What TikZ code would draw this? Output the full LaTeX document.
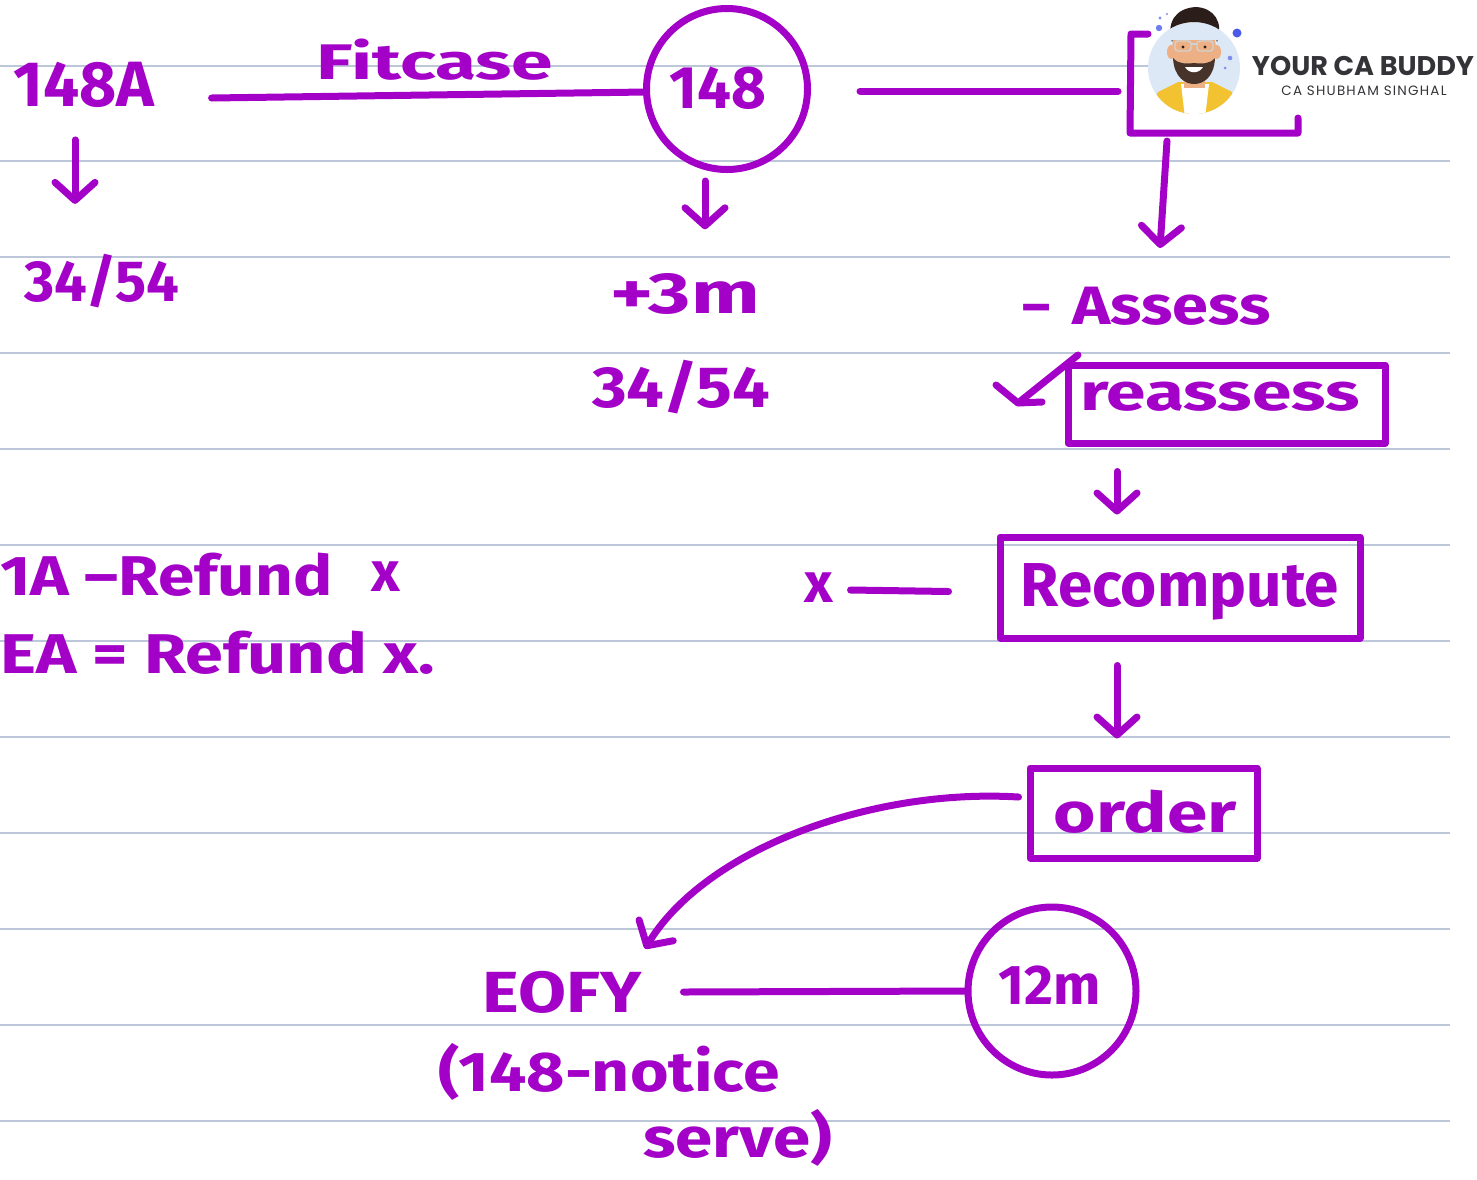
\documentclass[tikz,border=0pt]{standalone}
\usepackage{fontspec}
\setmainfont{Fira Sans}
\newfontfamily\handfont{Fira Sans}
\newfontfamily\logofont{Poppins}
\usetikzlibrary{arrows.meta,calc}
\definecolor{inkc}{RGB}{163,0,200}
\definecolor{rulec}{RGB}{188,200,218}
\definecolor{logogray}{RGB}{52,52,56}
\definecolor{avbg}{RGB}{220,232,245}
\definecolor{skin}{RGB}{236,176,132}
\definecolor{hair}{RGB}{42,29,26}
\definecolor{shirt}{RGB}{242,194,48}
\definecolor{dotblue}{RGB}{74,91,232}
\newcommand\hsz[1]{\fontsize{#1}{#1}\selectfont}
\newcommand\hwide[2]{\scalebox{#1}[1]{#2}}
\begin{document}
\begin{tikzpicture}[x=1pt,y=-1pt,
  ink/.style={draw=inkc, line width=7pt, line cap=round, line join=round},
  flow/.style={ink, -{Straight Barb[length=18pt,width=40pt,line cap=round,line join=round]}},
  hand/.style={text=inkc, inner sep=0pt},
  boxed/.style={ink, rectangle, inner sep=0pt},
  ring/.style={ink, circle, inner sep=0pt},
  ruling/.style={draw=rulec, line width=1.8pt}]
\useasboundingbox (0,0) rectangle (1477,1179);
\fill[white] (0,0) rectangle (1477,1179);

% ruled paper
\draw[ruling] (0,66) -- (1150,66);
\foreach \yy in {161,257,353,449,545,641,737,833,929,1025,1121}
  \draw[ruling] (0,\yy) -- (1450,\yy);

% ---------- left column ----------
\node[hand, font=\handfont\bfseries\hsz{64}] (s148A) at (84,85) {148A};
\node[hand, font=\handfont\bfseries\hsz{58}] (leftdue) at (102,281) {34/54};
\draw[flow] ($(s148A.south)+(-9,32)$) -- ($(leftdue.north)+(-27,-50)$);

\node[hand, font=\handfont\bfseries\hsz{50}] (fitcase) at (435,60) {\hwide{1.5}{Fitcase}};

% ---------- section 148 ----------
\node[ring, minimum size=161pt] (c148) at (727,89) {};
\node[hand, font=\handfont\bfseries\hsz{60}] (t148) at (718,88) {148};
\draw[ink] ($(s148A.east)+(57,13)$) -- ($(c148.west)+(3,3)$);

\node[hand, font=\handfont\bfseries\hsz{58}] (plus3m) at (685,294) {\hwide{1.4}{+3m}};
\node[hand, font=\handfont\bfseries\hsz{58}] (middue) at (681,387) {\hwide{1.15}{34/54}};
\draw[flow] ($(c148.south)+(-22,8)$) -- ($(plus3m.north)+(20,-44)$);

% ---------- logo ----------
\coordinate (brkTop) at (1131,34);
\coordinate (brkMid) at (1130,91);
\coordinate (brkFoot) at (1167,133);
\draw[ink] (1148,34) -- (brkTop) -- (1130,133) -- (1298,133) -- (1298,118);
\draw[ink] ($(c148.east)+(49,2)$) -- ($(brkMid)+(-12,0)$);

% avatar
\begin{scope}
  \fill[avbg] (1194,68) circle (46);
  \begin{scope}
    \clip (1194,68) circle (46) (1150,0) rectangle (1240,40);
    % shirt and tee
    \fill[shirt] (1146,118) -- (1158,92) -- (1178,82) -- (1212,82) -- (1232,92) -- (1244,118) -- cycle;
    \fill[white] (1181,84) -- (1209,84) -- (1205,118) -- (1185,118) -- cycle;
    \fill[skin] (1184,72) rectangle (1205,88);
    % ears and face
    \fill[skin] (1171,52) ellipse (4 and 7);
    \fill[skin] (1217,52) ellipse (4 and 7);
    \fill[skin] (1194,50) ellipse (22 and 30);
    % hair
    \fill[hair] (1172,42) .. controls (1166,22) and (1176,8) .. (1196,7)
      .. controls (1214,8) and (1224,22) .. (1217,42)
      .. controls (1214,30) and (1205,27) .. (1194,29)
      .. controls (1184,27) and (1175,30) .. (1172,42) -- cycle;
    % beard
    \fill[hair!85!skin] (1173,58) .. controls (1174,78) and (1186,84) .. (1194,84)
      .. controls (1203,84) and (1214,78) .. (1215,58)
      .. controls (1210,64) and (1202,64) .. (1194,63)
      .. controls (1186,64) and (1178,64) .. (1173,58) -- cycle;
    \fill[white] (1185,67) .. controls (1189,74) and (1199,74) .. (1203,67) -- cycle;
    % glasses
    \draw[gray!35, line width=1.4pt, rounded corners=3pt]
      (1175,41) rectangle (1191,51) (1197,41) rectangle (1213,51);
    \draw[gray!35, line width=1.2pt] (1191,44) -- (1197,44);
    \fill[hair] (1183,47) circle (1.6) (1205,47) circle (1.6);
  \end{scope}
  \fill[dotblue!70] (1160,18) circle (1.6);
  \fill[dotblue!70] (1167,14) circle (1.2);
  \fill[dotblue!80] (1159,28) circle (3.2);
  \fill[dotblue] (1237,33) circle (4.5);
  \fill[dotblue!70] (1230,58) circle (2.3);
  \fill[dotblue!70] (1225,68) circle (1.5);
\end{scope}
\node[text=logogray, inner sep=0pt, font=\logofont\bfseries\hsz{27}] (brand) at (1363,66) {YOUR CA BUDDY};
\node[text=logogray, inner sep=0pt, font=\logofont\hsz{13.5}\addfontfeature{LetterSpace=9}] (owner) at (1364,91) {CA SHUBHAM SINGHAL};

% ---------- right column ----------
\node[hand, font=\handfont\bfseries\hsz{54}, anchor=west] (assess) at (1022,306) {–\hspace{22pt}\hwide{1.2}{Assess}};
\draw[flow] (brkFoot) ++(0,8) -- ($(brkFoot)+(-7,115)$);

\node[boxed, minimum width=317pt, minimum height=78pt] (reassess) at (1226.5,404) {};
\node[hand, font=\handfont\bfseries\hsz{52}] (treassess) at (1220,397) {\hwide{1.37}{reassess}};
\draw[ink] (996,385) -- (1018,403) -- (1078,355) (1018,403) -- (1042,402);

\node[boxed, minimum width=360pt, minimum height=101pt] (recomp) at (1180,587.5) {};
\node[hand, font=\handfont\bfseries\hsz{62}] (trecomp) at (1180,592) {Recompute};
\draw[flow] ($(reassess.south)+(-109.5,25)$) -- ($(recomp.north)+(-63,-19)$);

\node[hand, font=\handfont\bfseries\hsz{56}] (xmark) at (819,588) {x};
\draw[ink] ($(xmark.east)+(17,2)$) -- ($(recomp.west)+(-48,4)$);

\node[boxed, minimum width=227pt, minimum height=90pt] (order) at (1143.5,813) {};
\node[hand, font=\handfont\bfseries\hsz{56}] (torder) at (1145,812) {\hwide{1.3}{order}};
\draw[flow] ($(recomp.south)+(-63,24)$) -- ($(order.north)+(-26.5,-26)$);

% ---------- bottom ----------
\node[hand, font=\handfont\bfseries\hsz{58}] (eofy) at (562,992) {\hwide{1.2}{EOFY}};
\draw[flow] ($(order.west)+(-8,-16)$) .. controls (870,788) and (705,850) .. ($(eofy.north)+(83,-22)$);

\node[ring, minimum size=168pt] (c12) at (1052,991) {};
\node[hand, font=\handfont\bfseries\hsz{56}] (t12) at (1050,985) {12m};
\draw[ink] ($(eofy.east)+(42,0)$) -- (c12.west);

\node[hand, font=\handfont\bfseries\hsz{56}] (notice) at (609,1072) {\hwide{1.18}{(148-notice}};
\node[hand, font=\handfont\bfseries\hsz{56}] (serve) at (738,1138) {\hwide{1.2}{serve)}};

% ---------- left notes ----------
\node[hand, font=\handfont\bfseries\hsz{56}, anchor=west] (note1) at (0,575) {\hwide{1.17}{1A –Refund}};
\node[hand, font=\handfont\bfseries\hsz{56}] (note1x) at (386,577) {x};
\node[hand, font=\handfont\bfseries\hsz{56}, anchor=west] (note2) at (0,653) {\hwide{1.22}{EA = Refund x.}};
\end{tikzpicture}
\end{document}
